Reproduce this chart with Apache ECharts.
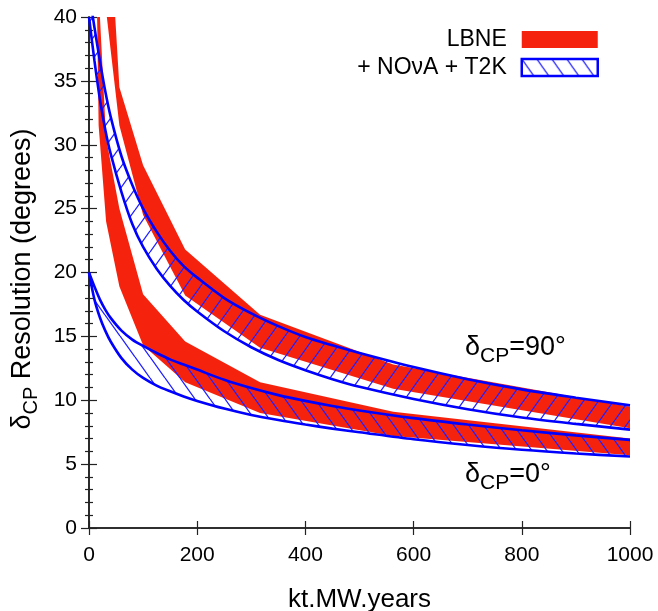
<!DOCTYPE html>
<html><head><meta charset="utf-8">
<script src="https://cdn.jsdelivr.net/npm/echarts@6/dist/echarts.min.js"></script>
<style>html,body{margin:0;padding:0;background:#fff}#c{width:658px;height:611px}</style>
</head><body><div id="c"></div>
<script>
// ---------- data ----------
const xBlue = [0,10,20,30,40,60,80,100,125,150,175,200,250,300,350,400,450,500,600,700,800,900,1000];
const blue90Lower = [40,36.6,33.6,31.2,29.3,26.3,23.8,22.0,20.3,18.95,17.85,16.95,15.4,14.15,13.15,12.35,11.65,11.05,10.1,9.3,8.65,8.15,7.7];
const blue90Upper = [42,39.2,36.6,34.2,32.2,29.1,26.85,25.0,23.2,21.7,20.5,19.6,18.0,16.8,15.8,14.95,14.3,13.7,12.6,11.65,10.85,10.2,9.6];
const blue0Lower  = [20,17.9,16.5,15.45,14.6,13.3,12.4,11.75,11.15,10.7,10.3,9.95,9.35,8.85,8.45,8.1,7.78,7.5,6.95,6.5,6.12,5.83,5.6];
const blue0Upper  = [20,18.9,17.9,17.1,16.45,15.45,14.75,14.25,13.7,13.2,12.8,12.4,11.6,10.95,10.4,9.95,9.55,9.2,8.6,8.1,7.65,7.25,6.9];

const red90X     = [31.6,56.2,100,177.8,316.2,562.3,1000];
const red90Lower = [40.5,31.5,24.5,18.2,14.1,10.9,7.8];
const red90Upper = [52,34.5,28.4,21.8,16.7,12.8,9.5];
const red0X      = [10,17.8,31.6,56.2,100,177.8,316.2,562.3,1000];
const red0Lower  = [55,31.5,24.0,18.9,14.3,11.4,9.0,7.2,5.7];
const red0Upper  = [70,42,30.5,25,18.3,14.6,11.4,9.1,7.0];

const xRange = [0,1000], xStep = 200;
const yRange = [0,40], yStep = 5;
const legendNames = ['LBNE','+ NOνA + T2K'];
const xTitle = 'kt.MW.years';
const yTitle = {main:'δ', sub:'CP', rest:' Resolution (degrees)'};
const label90 = {main:'δ', sub:'CP', rest:'=90°'};
const label0  = {main:'δ', sub:'CP', rest:'=0°'};

// ---------- styling ----------
const FONT = '"Liberation Sans", Arial, Helvetica, sans-serif';
const RED = '#f5230e';
const BLUE = '#0000ff';

function hatch(dir, bg) {
  const w = 15, h = 21;
  const c = document.createElement('canvas'); c.width = w; c.height = h;
  const g = c.getContext('2d');
  if (bg) { g.fillStyle = bg; g.fillRect(0,0,w,h); }
  g.strokeStyle = '#2020ff'; g.lineWidth = 1.3;
  g.beginPath();
  for (const k of [-1,0,1]) {
    if (dir === '/') { g.moveTo(k*w, h); g.lineTo(k*w + w, 0); }
    else { g.moveTo(k*w, 0); g.lineTo(k*w + w, h); }
  }
  g.stroke();
  return c;
}

// band drawn as one polygon through the axes (api.coord)
function bandSeries(name, xs, lo, hi, fill, z) {
  return {
    type:'custom', name:name, coordinateSystem:'cartesian2d', clip:true, silent:true, z:z,
    data: xs.map((x,i)=>[x, lo[i], hi[i]]),
    renderItem: function (params, api) {
      if (params.dataIndex !== 0) return null;
      const pts = [];
      for (let i = 0; i < xs.length; i++) pts.push(api.coord([xs[i], lo[i]]));
      for (let i = xs.length - 1; i >= 0; i--) pts.push(api.coord([xs[i], hi[i]]));
      return {type:'polygon', shape:{points:pts}, style:{fill:fill, stroke:null}};
    }
  };
}
function lineSeries(name, xs, ys) {
  return {type:'line', name:name, data:xs.map((x,i)=>[x, ys[i]]), symbol:'none', showSymbol:false,
          smooth:0.3, silent:true, z:4, lineStyle:{width:2.6, color:BLUE}};
}

const series = [
  bandSeries(legendNames[0], red90X, red90Lower, red90Upper, RED, 2),
  bandSeries(legendNames[0], red0X, red0Lower, red0Upper, RED, 2),
  bandSeries(legendNames[1], xBlue, blue90Lower, blue90Upper, {image:hatch('/'), repeat:'repeat'}, 3),
  bandSeries(legendNames[1], xBlue, blue0Lower, blue0Upper, {image:hatch('\\'), repeat:'repeat'}, 3),
  lineSeries(legendNames[1], xBlue, blue90Lower),
  lineSeries(legendNames[1], xBlue, blue90Upper),
  lineSeries(legendNames[1], xBlue, blue0Lower),
  lineSeries(legendNames[1], xBlue, blue0Upper)
];

// text measuring for sub-scripted labels
const mctx = document.createElement('canvas').getContext('2d');
function tw(t, size){ mctx.font = size + 'px ' + FONT; return mctx.measureText(t).width; }
function subText(lab, big, small, subDy) {
  const w1 = tw(lab.main, big), w2 = tw(lab.sub, small), w3 = tw(lab.rest, big);
  const st = (t, s) => ({text:t, fontSize:s, fontFamily:FONT, fill:'#000', verticalAlign:'middle', align:'left'});
  return {total:w1+w2+w3, children:[
    {type:'text', x:0, y:0, style:st(lab.main,big)},
    {type:'text', x:w1, y:subDy, style:st(lab.sub,small)},
    {type:'text', x:w1+w2, y:0, style:st(lab.rest,big)}
  ]};
}
const yt = subText(yTitle, 27, 20, 8);
const l90 = subText(label90, 27, 21, 8);
const l0 = subText(label0, 27, 21, 8);

const axisLine = {show:true, lineStyle:{color:'#222', width:1.6}};
const tickStyle = {color:'#222', width:1.2};
const chart = echarts.init(document.getElementById('c'), null, {renderer:'canvas'});
chart.setOption({
  animation:false,
  backgroundColor:'#fff',
  grid:{left:89, right:28, top:17, bottom:83, containLabel:false, outerBoundsMode:'none'},
  xAxis:[
    {type:'value', min:xRange[0], max:xRange[1], interval:xStep, position:'bottom',
     axisLine:axisLine, axisTick:{inside:true, length:7, lineStyle:tickStyle},
     axisLabel:{fontSize:21, color:'#000', fontFamily:FONT, margin:17, formatter:v=>String(v)},
     splitLine:{show:false},
     name:xTitle, nameLocation:'middle', nameGap:59, nameTextStyle:{fontSize:26, color:'#000', fontFamily:FONT, verticalAlign:'top'}},
    {type:'value', min:xRange[0], max:xRange[1], interval:xStep, position:'top',
     axisLine:axisLine, axisTick:{inside:true, length:7, lineStyle:tickStyle},
     axisLabel:{show:false}, splitLine:{show:false}}
  ],
  yAxis:[
    {type:'value', min:yRange[0], max:yRange[1], interval:yStep, position:'left',
     axisLine:axisLine, axisTick:{inside:true, length:8, lineStyle:tickStyle},
     minorTick:{show:true, splitNumber:5, length:4, lineStyle:tickStyle},
     axisLabel:{fontSize:21, color:'#000', fontFamily:FONT, margin:12},
     splitLine:{show:false}, minorSplitLine:{show:false}},
    {type:'value', min:yRange[0], max:yRange[1], interval:yStep, position:'right',
     axisLine:axisLine, axisTick:{inside:true, length:8, lineStyle:tickStyle},
     minorTick:{show:true, splitNumber:5, length:4, lineStyle:tickStyle},
     axisLabel:{show:false}, splitLine:{show:false}, minorSplitLine:{show:false}}
  ],
  legend:{
    orient:'vertical', right:59, top:28, padding:0, align:'right', itemWidth:76, itemHeight:17, itemGap:5,
    selectedMode:false,
    textStyle:{fontSize:23, color:'#000', fontFamily:FONT, padding:[0,10,0,0]},
    data:[
      {name:legendNames[0], icon:'rect', itemStyle:{color:RED, borderWidth:0}},
      {name:legendNames[1], icon:'rect', itemStyle:{color:{image:hatch('\\','#fff'),repeat:'repeat'}, borderColor:BLUE, borderWidth:2.5}}
    ]
  },
  graphic:[
    {type:'group', x:23, y:279 + yt.total/2, rotation:Math.PI/2, children:yt.children},
    {type:'group', x:465, y:348, children:l90.children},
    {type:'group', x:465, y:475, children:l0.children}
  ],
  series:series
});
</script>
</body></html>
